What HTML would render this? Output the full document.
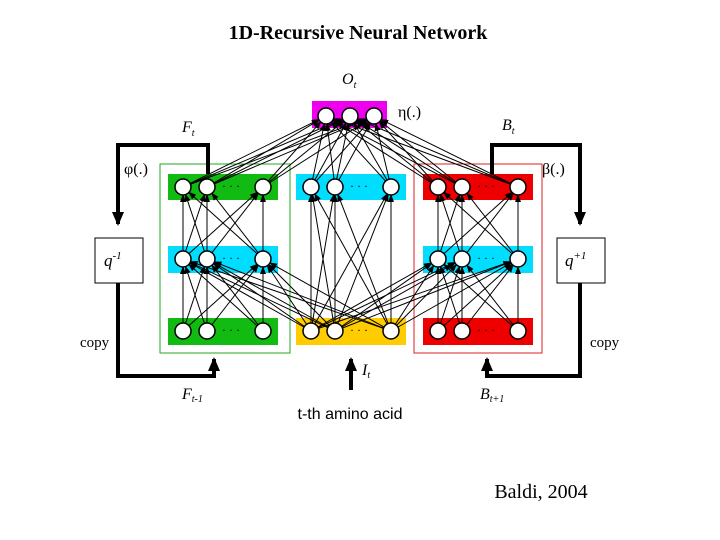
<!DOCTYPE html>
<html><head><meta charset="utf-8"><style>
body{margin:0;background:#fff;width:720px;height:540px;overflow:hidden}
svg{display:block}
text{font-family:"Liberation Serif",serif}
</style></head><body>
<svg id="s" width="720" height="540" viewBox="0 0 720 540">
<defs><marker id="a" markerWidth="8" markerHeight="8" refX="7" refY="4" orient="auto" markerUnits="userSpaceOnUse"><path d="M0,1 L8,4 L0,7z" fill="#000"/></marker>
<marker id="b" markerWidth="14" markerHeight="14" refX="12" refY="7" orient="auto" markerUnits="userSpaceOnUse"><path d="M0,1 L14,7 L0,13z" fill="#000"/></marker></defs>
<text x="358" y="39" font-size="20" font-weight="bold" text-anchor="middle">1D-Recursive Neural Network</text>
<rect x="160" y="164" width="130" height="189" fill="none" stroke="#2a2" stroke-width="1"/>
<rect x="414" y="164" width="128" height="189" fill="none" stroke="#d22" stroke-width="1"/>
<rect x="312" y="101" width="75" height="27" fill="#e0e"/>
<rect x="168" y="174" width="110" height="26" fill="#1b1"/>
<rect x="168" y="246" width="110" height="27" fill="#0df"/>
<rect x="168" y="318" width="110" height="27" fill="#1b1"/>
<rect x="296" y="174" width="110" height="26" fill="#0df"/>
<rect x="296" y="318" width="110" height="27" fill="#fc0"/>
<rect x="423" y="174" width="110" height="26" fill="#e00"/>
<rect x="423" y="246" width="110" height="27" fill="#0df"/>
<rect x="423" y="318" width="110" height="27" fill="#e00"/>
<g id="L" stroke="#000" stroke-width="1"></g>
<g id="N"></g>
<rect x="95" y="238" width="48" height="45" fill="#fff" stroke="#000"/>
<rect x="557" y="238" width="48" height="45" fill="#fff" stroke="#000"/>
<text x="104" y="266" font-size="17" font-style="italic">q<tspan font-size="11" dy="-7">-1</tspan></text>
<text x="565" y="266" font-size="17" font-style="italic">q<tspan font-size="11" dy="-7">+1</tspan></text>
<g fill="none" stroke="#000" stroke-width="4">
<path d="M208,174 V145 H118 V224" marker-end="url(#b)"/>
<path d="M492,174 V145 H580 V224" marker-end="url(#b)"/>
<path d="M118,283 V376 H214 V359" marker-end="url(#b)"/>
<path d="M580,283 V376 H487 V359" marker-end="url(#b)"/>
<path d="M351,390 V359" marker-end="url(#b)"/>
</g>
<text x="342" y="84" font-size="16" font-style="italic">O<tspan font-size="10" dy="4">t</tspan></text>
<text x="398" y="117" font-size="16">η(.)</text>
<text x="182" y="132" font-size="16" font-style="italic">F<tspan font-size="10" dy="4">t</tspan></text>
<text x="502" y="130" font-size="16" font-style="italic">B<tspan font-size="10" dy="4">t</tspan></text>
<text x="124" y="174" font-size="16">φ(.)</text>
<text x="542" y="174" font-size="16">β(.)</text>
<text x="80" y="347" font-size="15">copy</text>
<text x="590" y="347" font-size="15">copy</text>
<text x="182" y="399" font-size="16" font-style="italic">F<tspan font-size="10" dy="3">t-1</tspan></text>
<text x="480" y="399" font-size="16" font-style="italic">B<tspan font-size="10" dy="3">t+1</tspan></text>
<text x="362" y="375" font-size="16" font-style="italic">I<tspan font-size="10" dy="3">t</tspan></text>
<text x="350" y="419" font-size="16" text-anchor="middle" font-family="Liberation Sans" style="font-family:'Liberation Sans',sans-serif">t-th amino acid</text>
<text x="541" y="498" font-size="20" text-anchor="middle">Baldi, 2004</text>
</svg>
<script>
var ns="http://www.w3.org/2000/svg",L=document.getElementById("L"),N=document.getElementById("N");
function row(x0,y){return [[x0+15,y],[x0+39,y],[x0+95,y]];}
var Lt=row(168,187),Lm=row(168,259),Lb=row(168,331),Mt=row(296,187),Mb=row(296,331),Rt=row(423,187),Rm=row(423,259),Rb=row(423,331);
var O=[[326,116],[350,116],[374,116]];
function ln(a,b){var l=document.createElementNS(ns,"line");var dx=b[0]-a[0],dy=b[1]-a[1],d=Math.hypot(dx,dy),r=8;
l.setAttribute("x1",a[0]);l.setAttribute("y1",a[1]);l.setAttribute("x2",b[0]-dx/d*r);l.setAttribute("y2",b[1]-dy/d*r);l.setAttribute("marker-end","url(#a)");L.appendChild(l);}
function full(A,B){A.forEach(function(a){B.forEach(function(b){ln(a,b);});});}
full(Lb,Lm);full(Lm,Lt);full(Rb,Rm);full(Rm,Rt);full(Mb,Mt);full(Mb,Lm);full(Mb,Rm);
full(Lt,O);full(Mt,O);full(Rt,O);
[].concat(Lt,Lm,Lb,Mt,Mb,Rt,Rm,Rb,O).forEach(function(p){var c=document.createElementNS(ns,"circle");c.setAttribute("cx",p[0]);c.setAttribute("cy",p[1]);c.setAttribute("r",8);c.setAttribute("fill","#fff");c.setAttribute("stroke","#000");c.setAttribute("stroke-width","1.5");N.appendChild(c);});
[[222,190],[350,190],[477,190],[222,262],[477,262],[222,334],[350,334],[477,334]].forEach(function(p){var t=document.createElementNS(ns,"text");t.setAttribute("x",p[0]);t.setAttribute("y",p[1]);t.setAttribute("font-size","12");t.textContent="· · ·";N.appendChild(t);});
</script>
</body></html>
